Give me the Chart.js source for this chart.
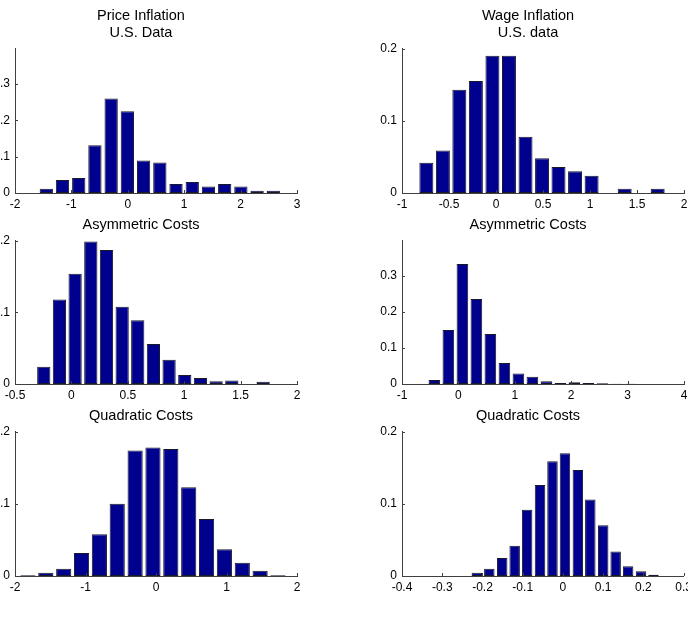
<!DOCTYPE html>
<html>
<head>
<meta charset="utf-8">
<script src="https://cdn.jsdelivr.net/npm/chart.js@4.4.1/dist/chart.umd.min.js"></script>
<style>
    html, body { margin: 0; padding: 0; background: #fff; }
    body { width: 688px; height: 624px; overflow: hidden; position: relative; }
    canvas { position: absolute; }
</style>
</head>
<body>
<canvas id="c1" width="324" height="215" style="left:-15px; top:0px"></canvas>
<canvas id="c2" width="324" height="215" style="left:372px; top:0px"></canvas>
<canvas id="c3" width="324" height="197" style="left:-15px; top:209px"></canvas>
<canvas id="c4" width="324" height="197" style="left:372px; top:209px"></canvas>
<canvas id="c5" width="324" height="198" style="left:-15px; top:400px"></canvas>
<canvas id="c6" width="324" height="198" style="left:372px; top:400px"></canvas>
<script>
// Histogramm-Daten (Bin-Mitten und relative Häufigkeiten)
const priceDataCenters = [-1.445, -1.158, -0.870, -0.583, -0.295, -0.008, 0.280, 0.568, 0.855, 1.143, 1.430, 1.718, 2.005, 2.293, 2.580];
const priceDataFreq = [0.012, 0.036, 0.041, 0.131, 0.260, 0.225, 0.089, 0.084, 0.025, 0.030, 0.018, 0.025, 0.018, 0.006, 0.006];

const wageDataCenters = [-0.741, -0.565, -0.390, -0.214, -0.038, 0.138, 0.314, 0.490, 0.665, 0.841, 1.017, 1.193, 1.369, 1.544, 1.720];
const wageDataFreq = [0.042, 0.059, 0.143, 0.155, 0.190, 0.190, 0.078, 0.048, 0.036, 0.030, 0.024, 0, 0.006, 0, 0.006];

const priceAsymCenters = [-0.245, -0.106, 0.033, 0.172, 0.311, 0.450, 0.588, 0.727, 0.866, 1.005, 1.144, 1.283, 1.422, 1.561, 1.700];
const priceAsymFreq = [0.024, 0.118, 0.154, 0.199, 0.187, 0.108, 0.089, 0.056, 0.034, 0.0125, 0.0085, 0.004, 0.005, 0, 0.003];

const wageAsymCenters = [-0.426, -0.178, 0.071, 0.319, 0.567, 0.816, 1.064, 1.312, 1.561, 1.809, 2.057, 2.305, 2.554, 2.802, 3.050];
const wageAsymFreq = [0.011, 0.150, 0.333, 0.236, 0.139, 0.058, 0.029, 0.020, 0.0075, 0.003, 0.005, 0.003, 0.002, 0.001, 0.001];

const priceQuadCenters = [-1.816, -1.563, -1.309, -1.056, -0.803, -0.550, -0.296, -0.043, 0.210, 0.464, 0.717, 0.970, 1.224, 1.477, 1.730];
const priceQuadFreq = [0.001, 0.0046, 0.010, 0.032, 0.058, 0.100, 0.174, 0.178, 0.176, 0.123, 0.079, 0.037, 0.0185, 0.0074, 0.001];

const wageQuadCenters = [-0.214, -0.183, -0.151, -0.120, -0.089, -0.057, -0.026, 0.005, 0.037, 0.068, 0.100, 0.131, 0.162, 0.194, 0.225];
const wageQuadFreq = [0.0046, 0.010, 0.025, 0.042, 0.092, 0.126, 0.159, 0.170, 0.147, 0.106, 0.0705, 0.034, 0.0134, 0.0065, 0.0018];

// Achsenbeschriftungen
const xTicksPriceData = [-2, -1, 0, 1, 2, 3];
const xTicksWageData = [-1, -0.5, 0, 0.5, 1, 1.5, 2];
const xTicksPriceAsym = [-0.5, 0, 0.5, 1, 1.5, 2];
const xTicksWageAsym = [-1, 0, 1, 2, 3, 4];
const xTicksPriceQuad = [-2, -1, 0, 1, 2];
const xTicksWageQuad = [-0.4, -0.3, -0.2, -0.1, 0, 0.1, 0.2, 0.3];
const yTicksSmall = [0, 0.1, 0.2];
const yTicksLarge = [0, 0.1, 0.2, 0.3];

const FONT = "'Liberation Sans', Arial, Helvetica, sans-serif";
const AXIS_COLOR = '#404040';
const BAR_COLOR = '#00008f';

// Kleine Ticks nach innen, wie bei MATLAB
const inwardTicks = {
    id: 'inwardTicks',
    afterDraw(chart) {
        const { ctx, chartArea, scales } = chart;
        ctx.save();
        ctx.strokeStyle = AXIS_COLOR;
        ctx.lineWidth = 1;
        ctx.beginPath();
        scales.x.ticks.forEach((t, i) => {
            const px = Math.round(scales.x.getPixelForTick(i)) + 0.5;
            ctx.moveTo(px, chartArea.bottom);
            ctx.lineTo(px, chartArea.bottom - 3);
        });
        scales.y.ticks.forEach((t, i) => {
            const py = Math.round(scales.y.getPixelForTick(i)) + 0.5;
            ctx.moveTo(chartArea.left, py);
            ctx.lineTo(chartArea.left + 3, py);
        });
        ctx.stroke();
        ctx.restore();
    }
};

function makeHist(id, title, centers, freq, xTicks, yTicks, yMax, barPct) {
    const ctx = document.getElementById(id).getContext('2d');
    return new Chart(ctx, {
        type: 'bar',
        data: {
            datasets: [{
                data: centers.map((c, i) => ({ x: c, y: freq[i] })),
                backgroundColor: BAR_COLOR,
                borderColor: 'rgba(0, 0, 20, 0.9)',
                borderWidth: 1,
                borderSkipped: false,
                categoryPercentage: 1,
                barPercentage: barPct
            }]
        },
        options: {
            responsive: false,
            animation: false,
            layout: { padding: { left: 0, right: 12, top: 0, bottom: 0 } },
            plugins: {
                legend: { display: false },
                tooltip: { enabled: false },
                title: {
                    display: true,
                    text: title,
                    color: '#000',
                    font: { family: FONT, size: 14.5, weight: 'normal', lineHeight: 1.16 },
                    padding: { top: 7.6, bottom: 7.3 }
                }
            },
            scales: {
                x: {
                    type: 'linear',
                    offset: false,
                    min: xTicks[0],
                    max: xTicks[xTicks.length - 1],
                    afterBuildTicks: s => { s.ticks = xTicks.map(v => ({ value: v })); },
                    afterFit: s => { s.height = 22; },
                    grid: { display: false, drawTicks: false, offset: false },
                    border: { display: true, color: AXIS_COLOR, width: 1 },
                    ticks: {
                        color: '#000',
                        font: { family: FONT, size: 12 },
                        padding: 4,
                        maxRotation: 0,
                        autoSkip: false,
                        callback: v => String(v)
                    }
                },
                y: {
                    type: 'linear',
                    min: 0,
                    max: yMax,
                    afterBuildTicks: s => { s.ticks = yTicks.map(v => ({ value: v })); },
                    afterFit: s => { s.width = 30; },
                    grid: { display: false, drawTicks: false },
                    border: { display: true, color: AXIS_COLOR, width: 1 },
                    ticks: {
                        color: '#000',
                        font: { family: FONT, size: 12 },
                        padding: 5,
                        callback: v => String(v)
                    }
                }
            }
        },
        plugins: [inwardTicks]
    });
}

makeHist('c1', ['Price Inflation', 'U.S. Data'], priceDataCenters, priceDataFreq, xTicksPriceData, yTicksLarge, 0.397, 0.82);
makeHist('c2', ['Wage Inflation', 'U.S. data'], wageDataCenters, wageDataFreq, xTicksWageData, yTicksSmall, 0.2, 0.85);
makeHist('c3', 'Asymmetric Costs', priceAsymCenters, priceAsymFreq, xTicksPriceAsym, yTicksSmall, 0.2, 0.85);
makeHist('c4', 'Asymmetric Costs', wageAsymCenters, wageAsymFreq, xTicksWageAsym, yTicksLarge, 0.398, 0.83);
makeHist('c5', 'Quadratic Costs', priceQuadCenters, priceQuadFreq, xTicksPriceQuad, yTicksSmall, 0.2, 0.85);
makeHist('c6', 'Quadratic Costs', wageQuadCenters, wageQuadFreq, xTicksWageQuad, yTicksSmall, 0.2, 0.84);
</script>
</body>
</html>
